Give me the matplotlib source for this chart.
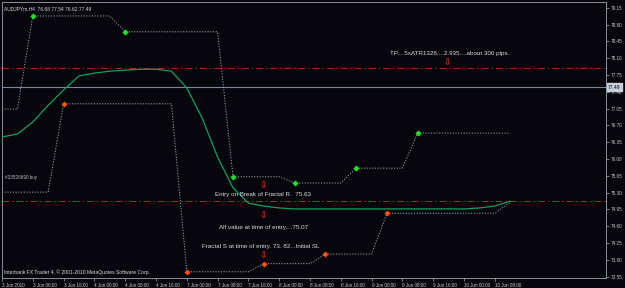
import matplotlib
matplotlib.use("Agg")
import matplotlib.pyplot as plt

plt.rcParams['font.family'] = ['Liberation Sans', 'DejaVu Sans']

# ---- data ----
x_labels = ["3 Jun 2010", "3 Jun 08:00", "3 Jun 16:00", "4 Jun 00:00", "4 Jun 08:00",
            "4 Jun 16:00", "7 Jun 00:00", "7 Jun 08:00", "7 Jun 16:00", "8 Jun 00:00",
            "8 Jun 08:00", "8 Jun 16:00", "9 Jun 00:00", "9 Jun 08:00", "9 Jun 16:00",
            "10 Jun 00:00", "10 Jun 08:00"]
y_ticks = [79.15, 78.80, 78.45, 78.10, 77.75, 77.40, 77.05, 76.70, 76.35, 76.00,
           75.65, 75.30, 74.95, 74.60, 74.25, 73.90, 73.55]

ma_values = [76.46, 76.52, 76.77, 77.12, 77.44, 77.73, 77.79, 77.83, 77.85, 77.87,
             77.87, 77.83, 77.48, 76.85, 76.04, 75.40, 75.08, 75.02, 74.98, 74.96,
             74.96, 74.96, 74.96, 74.96, 74.96, 74.96, 74.96, 74.96, 74.96, 74.96,
             74.96, 74.98, 75.02, 75.12]
fractal_up = [77.04, 77.04, 78.98, 78.98, 78.98, 78.98, 78.98, 78.98, 78.65, 78.65,
              78.65, 78.65, 78.65, 78.65, 78.65, 75.63, 75.63, 75.63, 75.63, 75.50,
              75.50, 75.50, 75.50, 75.81, 75.81, 75.81, 75.81, 76.54, 76.54, 76.54,
              76.54, 76.54, 76.54, 76.54]
fractal_dn = [75.31, 75.31, 75.31, 75.31, 77.15, 77.15, 77.15, 77.15, 77.15, 77.15,
              77.15, 77.15, 73.65, 73.65, 73.65, 73.65, 73.65, 73.82, 73.82, 73.82,
              73.82, 74.02, 74.02, 74.02, 74.02, 74.87, 74.87, 74.87, 74.87, 74.87,
              74.87, 74.87, 74.87, 75.10]
up_dot_bars = [2, 8, 15, 19, 23, 27]
dn_dot_bars = [4, 12, 17, 21, 25]
tp_level = 77.90
entry_level = 75.125
current_price = 77.49

# ---- figure ----
BG = '#06060c'
fig = plt.figure(figsize=(6.25, 2.88), dpi=100, facecolor=BG)
ax = fig.add_axes([2 / 625, 10 / 288, 604 / 625, 276 / 288], facecolor=BG)
ax.set_xlim(0, 39.22)
ax.set_ylim(73.521, 79.271)

bars = list(range(len(ma_values)))

# horizontal levels
ax.axhline(tp_level, color='#b02818', lw=0.7, ls=(0, (7, 3, 1.5, 3)), zorder=1)
ax.axhline(entry_level, color='#b02818', lw=0.7, ls=(0, (7, 3, 1.5, 3)), zorder=1)
ax.axhline(current_price, color='#7888a0', lw=0.8, zorder=1)

# fractal lines
ax.plot(bars, fractal_up, color='#9aa4b8', lw=0.7, ls=(0, (1.2, 1.6)), zorder=2)
ax.plot(bars, fractal_dn, color='#9aa4b8', lw=0.7, ls=(0, (1.2, 1.6)), zorder=2)
ax.plot(up_dot_bars, [fractal_up[i] for i in up_dot_bars], 'D', color='#20e020',
        ms=2.8, mec='#10ff10', mew=0.3, zorder=4)
ax.plot(dn_dot_bars, [fractal_dn[i] for i in dn_dot_bars], 'D', color='#ff5a18',
        ms=2.8, mec='#ff3000', mew=0.3, zorder=4)

# moving average
ax.plot(bars, ma_values, color='#10a060', lw=0.9, zorder=3)

# texts
txt = '#dcdcdc'
ax.text(0.004, 0.985, "AUDJPYm,H4  76.68 77.54 76.62 77.49", transform=ax.transAxes,
        color=txt, fontsize=3.5, ha='left', va='top')
ax.text(0.004, 0.012, "Interbank FX Trader 4, \u00a9 2001-2010 MetaQuotes Software Corp.",
        transform=ax.transAxes, color=txt, fontsize=3.6, ha='left', va='bottom')
ax.text(0.17, 75.625, "#33526690 buy", color='#b8b8c0', fontsize=3.3, ha='left', va='center')
ax.text(25.2, 78.19, "TP....5xATR1326....2.935....about 300 pips.", color=txt,
        fontsize=4.5, ha='left', va='center')
ax.text(13.85, 75.27, "Entry on Break of Fractal R.  75.63", color=txt,
        fontsize=4.5, ha='left', va='center')
ax.text(14.1, 74.58, "Alf value at time of entry....75.07", color=txt,
        fontsize=4.5, ha='left', va='center')
ax.text(13.0, 74.17, "Fractal S at time of entry. 73. 82...Initial SL", color=txt,
        fontsize=4.5, ha='left', va='center')
for (bx, by) in [(28.9, 78.02), (17.0, 75.46), (17.0, 74.83), (17.0, 73.99)]:
    ax.text(bx, by, "\u21e9", color='#ff2020', fontsize=6.5, fontweight='bold',
            ha='center', va='center', family=['DejaVu Sans'])

# axes styling
for s in ['left', 'right', 'top', 'bottom']:
    ax.spines[s].set_color('#8890a0')
    ax.spines[s].set_linewidth(0.7)
ax.yaxis.tick_right()
ax.set_yticks(y_ticks)
ax.set_yticklabels([f"{v:.2f}" for v in y_ticks])
ax.tick_params(axis='y', colors='#8890a0', labelcolor='#c8c8d0', labelsize=3.3,
               length=2, width=0.6, pad=1.5)
ax.set_xticks(list(range(0, 2 * len(x_labels), 2)))
ax.set_xticklabels(x_labels, ha='left')
ax.tick_params(axis='x', colors='#8890a0', labelcolor='#c8c8d0', labelsize=3.3,
               length=2, width=0.6, pad=1.5)

# current price tag
ax.annotate(f"{current_price:.2f}", xy=(1.0, current_price), xycoords=('axes fraction', 'data'),
            xytext=(1.5, 0), textcoords='offset points', fontsize=3.6, color='#000000',
            ha='left', va='center',
            bbox=dict(boxstyle='square,pad=0.3', fc='#c8d0e0', ec='#c8d0e0'))

fig.savefig("out.png", dpi=100, facecolor=BG)
